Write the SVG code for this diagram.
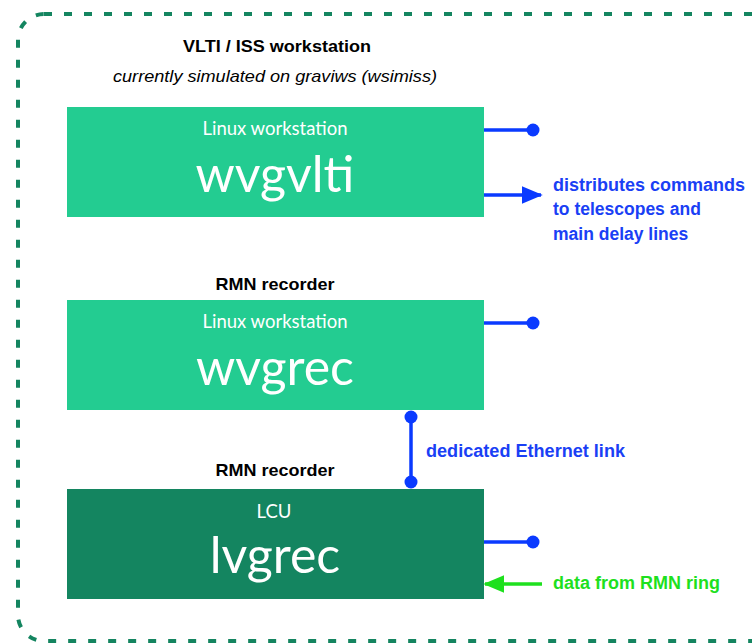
<svg xmlns="http://www.w3.org/2000/svg" width="752" height="644" viewBox="0 0 752 644">
<style>
.box1{fill:#23cc91}
.box2{fill:#148560}
.sub{font-family:Lato,"Noto Sans",sans-serif;font-size:18.5px;fill:#ffffff;text-anchor:middle}
.big{font-family:Lato,"Noto Sans",sans-serif;font-size:50px;fill:#ffffff;text-anchor:middle}
.hdr{font-family:"Liberation Sans",Arial,sans-serif;font-size:17px;font-weight:bold;fill:#000;text-anchor:middle}
.ital{font-family:"Liberation Sans",Arial,sans-serif;font-size:17px;font-style:italic;fill:#000;text-anchor:middle}
.blue{font-family:"Liberation Sans",Arial,sans-serif;font-size:17.5px;font-weight:bold;fill:#1a3ff5}
.green{font-family:"Liberation Sans",Arial,sans-serif;font-size:17.5px;font-weight:bold;fill:#1ee01e}
.bl{stroke:#0a3aff;stroke-width:3.5;fill:none}
.gl{stroke:#1ee01e;stroke-width:3.5;fill:none}
.dot{fill:#0a3aff}
</style>
<defs>
<marker id="ab" markerWidth="6" markerHeight="5" refX="5.5" refY="2.5" orient="auto" markerUnits="strokeWidth">
<path d="M0,0 L6,2.5 L0,5 z" fill="#0a3aff"/>
</marker>
<marker id="ag" markerWidth="6" markerHeight="5" refX="5.5" refY="2.5" orient="auto" markerUnits="strokeWidth">
<path d="M0,0 L6,2.5 L0,5 z" fill="#1ee01e"/>
</marker>
</defs>
<rect width="752" height="644" fill="#ffffff"/>
<rect id="boundary" x="18" y="14" width="760" height="627" rx="26" ry="26" fill="none" stroke="#148560" stroke-width="4" stroke-dasharray="8 12"/>
<g id="labels">
<text class="hdr" x="277" y="52" textLength="188" lengthAdjust="spacingAndGlyphs">VLTI / ISS workstation</text>
<text class="ital" x="275" y="82" textLength="324" lengthAdjust="spacingAndGlyphs">currently simulated on graviws (wsimiss)</text>
<text class="hdr" x="275" y="290" textLength="119" lengthAdjust="spacingAndGlyphs">RMN recorder</text>
<text class="hdr" x="275" y="476" textLength="119" lengthAdjust="spacingAndGlyphs">RMN recorder</text>
</g>
<g id="wvgvlti">
<rect class="box1" x="67" y="107" width="417" height="110"/>
<text class="sub" x="275" y="135">Linux workstation</text>
<text class="big" x="275" y="192">wvgvlti</text>
</g>
<g id="wvgrec">
<rect class="box1" x="67" y="300" width="417" height="110"/>
<text class="sub" x="275" y="328">Linux workstation</text>
<text class="big" x="275" y="385">wvgrec</text>
</g>
<g id="lvgrec">
<rect class="box2" x="67" y="489" width="417" height="110"/>
<text class="sub" x="274" y="518">LCU</text>
<text class="big" x="275" y="573">lvgrec</text>
</g>
<g id="connectors">
<line class="bl" x1="484" y1="130" x2="533" y2="130"/>
<circle class="dot" cx="533" cy="130" r="6.5"/>
<line class="bl" x1="484" y1="195" x2="541" y2="195" marker-end="url(#ab)"/>
<line class="bl" x1="484" y1="323" x2="533" y2="323"/>
<circle class="dot" cx="533" cy="323" r="6.5"/>
<line class="bl" x1="411" y1="417" x2="411" y2="482"/>
<circle class="dot" cx="411" cy="417" r="6.5"/>
<circle class="dot" cx="411" cy="482" r="6.5"/>
<line class="bl" x1="484" y1="542" x2="533" y2="542"/>
<circle class="dot" cx="533" cy="542" r="6.5"/>
<line class="gl" x1="542" y1="584" x2="485" y2="584" marker-end="url(#ag)"/>
</g>
<g id="annotations">
<text class="blue" x="553" y="191" textLength="192" lengthAdjust="spacingAndGlyphs">distributes commands</text>
<text class="blue" x="553" y="215">to telescopes and</text>
<text class="blue" x="553" y="240">main delay lines</text>
<text class="blue" x="426" y="457" textLength="199" lengthAdjust="spacingAndGlyphs">dedicated Ethernet link</text>
<text class="green" x="553" y="589" textLength="167" lengthAdjust="spacingAndGlyphs">data from RMN ring</text>
</g>
</svg>
